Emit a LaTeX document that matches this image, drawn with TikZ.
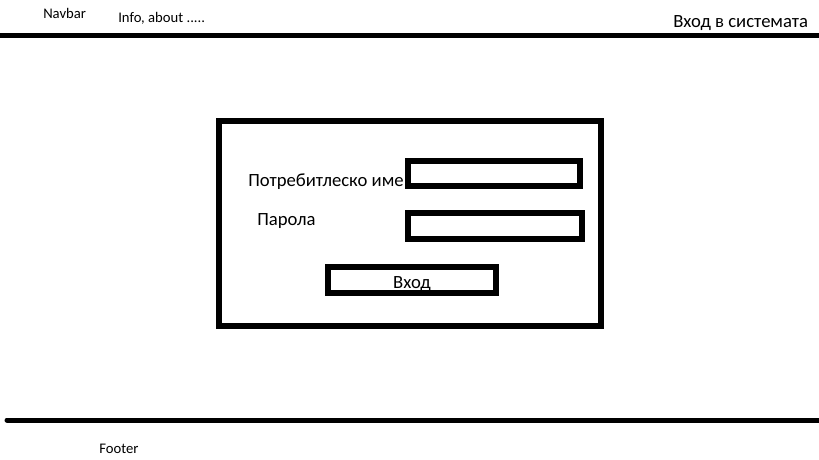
\documentclass[tikz,border=0pt]{standalone}
\usepackage{fontspec}
\setmainfont{Carlito}
\usetikzlibrary{positioning}
\begin{document}
\begin{tikzpicture}[x=0.75pt, y=-0.75pt]
		\tikzstyle{bar} = [line width=3.75pt]
		\tikzstyle{frame} = [draw, line width=4.5pt, inner sep=0pt]
		\tikzstyle{small} = [font=\fontsize{11}{13}\selectfont, inner sep=0pt, anchor=base west]
		\tikzstyle{label} = [font=\fontsize{14}{17}\selectfont, inner sep=0pt, anchor=base west]

		\useasboundingbox (0,0) rectangle (819,460);

		% navbar
		\coordinate (n1) at (0,35.5);
		\coordinate (n2) at (819,35.5);
		\draw[bar] (n1) -- (n2);
		\node[small] (nav) at (43,18.5) {Navbar};
		\node[small] (info) at (118,23) {Info, about .....};
		\node[label] (login) at (673,28) {Вход в системата};

		% form
		\node[frame, minimum width=286.5pt, minimum height=153.75pt] (form) at (410,223.5) {};
		\node[frame, minimum width=129pt, minimum height=18.75pt] (user) at (494,173.5) {};
		\node[frame, minimum width=130.5pt, minimum height=19.5pt] (pass) at (495,226) {};
		\node[frame, minimum width=126pt, minimum height=19.5pt] (btn) at (412,280) {};
		\node[label, anchor=base] (btnlbl) at (412,288) {Вход};
		\node[label] (ulbl) at (248,186) {Потребитлеско име};
		\node[label] (plbl) at (257,226) {Парола};

		% footer
		\coordinate (f1) at (7,420);
		\coordinate (f2) at (819,420);
		\draw[bar, line cap=round] (f1) -- (f2);
		\node[small] (foot) at (99,453) {Footer};
\end{tikzpicture}
\end{document}
